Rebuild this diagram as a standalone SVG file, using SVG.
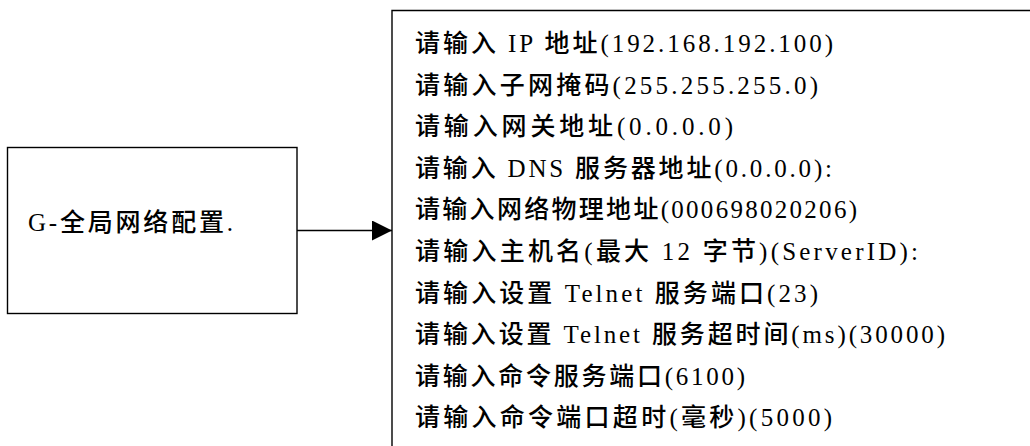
<svg xmlns="http://www.w3.org/2000/svg" width="1030" height="446" viewBox="0 0 1030 446">
<style>
.box{fill:#fff;stroke:#000;stroke-width:1.4}
.edge{stroke:#000;stroke-width:1.4;fill:none}
.t{font-family:"Liberation Serif","Noto Sans CJK SC",serif;font-size:25px;font-weight:500;fill:#000}
</style>
<defs>
<marker id="ah" markerWidth="20" markerHeight="20" refX="20" refY="10" orient="auto" markerUnits="userSpaceOnUse">
<path d="M0,0 L20,10 L0,20 Z" fill="#000"/>
</marker>
</defs>
<rect width="1030" height="446" fill="#fff"/>
<g id="node-global">
<rect class="box" x="7.5" y="147.5" width="289.5" height="166"/>
<text class="t" x="28" y="231" textLength="205" lengthAdjust="spacing">G-全局网络配置.</text>
</g>
<g id="node-settings">
<path class="edge" d="M1031,10.5 H392 V447"/>
<text class="t" x="415" y="52" textLength="418" lengthAdjust="spacing">请输入 IP 地址(192.168.192.100)</text>
<text class="t" x="415" y="93.6" textLength="403" lengthAdjust="spacing">请输入子网掩码(255.255.255.0)</text>
<text class="t" x="415" y="135.2" textLength="318" lengthAdjust="spacing">请输入网关地址(0.0.0.0)</text>
<text class="t" x="415" y="176.8" textLength="417" lengthAdjust="spacing">请输入 DNS 服务器地址(0.0.0.0):</text>
<text class="t" x="415" y="218.4" textLength="442" lengthAdjust="spacing">请输入网络物理地址(000698020206)</text>
<text class="t" x="415" y="260" textLength="503" lengthAdjust="spacing">请输入主机名(最大 12 字节)(ServerID):</text>
<text class="t" x="415" y="301.6" textLength="403" lengthAdjust="spacing">请输入设置 Telnet 服务端口(23)</text>
<text class="t" x="415" y="343.2" textLength="530" lengthAdjust="spacing">请输入设置 Telnet 服务超时间(ms)(30000)</text>
<text class="t" x="415" y="384.8" textLength="330" lengthAdjust="spacing">请输入命令服务端口(6100)</text>
<text class="t" x="415" y="426.4" textLength="417" lengthAdjust="spacing">请输入命令端口超时(毫秒)(5000)</text>
</g>
<g id="connectors">
<line class="edge" x1="297" y1="230.5" x2="392" y2="230.5" marker-end="url(#ah)"/>
</g>
</svg>
